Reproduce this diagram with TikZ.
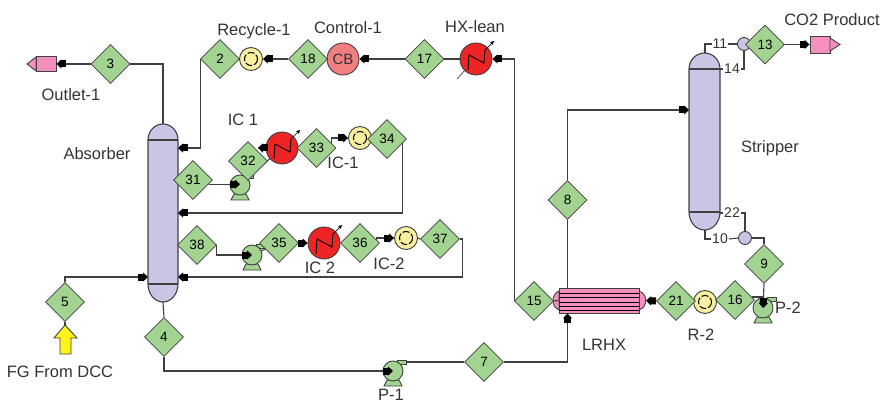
\documentclass[tikz,border=0pt]{standalone}
\usepackage{fontspec}
\setmainfont{Liberation Sans}
\usetikzlibrary{arrows.meta,shapes.geometric,backgrounds}
\definecolor{linec}{HTML}{404040}
\definecolor{txtc}{HTML}{333333}
\definecolor{diac}{HTML}{A2D391}
\definecolor{colc}{HTML}{C8C6E4}
\definecolor{redc}{HTML}{EE2424}
\definecolor{yelc}{HTML}{F7F0A0}
\definecolor{pinkc}{HTML}{F48FC0}
\definecolor{cbc}{HTML}{F27F80}
\tikzset{
  dia/.style={diamond,aspect=1,draw=linec,line width=.6pt,fill=diac,inner sep=0pt,minimum width=39pt,minimum height=39pt,text=black,font=\fontsize{13.5}{13.5}\selectfont},
  lab/.style={text=txtc,font=\fontsize{16.5}{16.5}\selectfont,inner sep=0pt},
  tag/.style={text=txtc,font=\fontsize{14}{14}\selectfont,inner sep=1pt},
  pipe/.style={draw=linec,line width=1.1pt},
  flow/.style={pipe,-{Rectangle[black,length=5pt,width=7pt,sep=0pt]Triangle[black,length=5pt,width=9pt]}},
  ring/.style={circle,inner sep=0pt,draw=linec,line width=.9pt},
  heat/.style={ring,fill=redc,minimum size=32pt},
  recy/.style={ring,fill=yelc,minimum size=23pt},
  mixr/.style={ring,fill=colc,minimum size=13pt},
  pumpn/.style={ring,fill=diac,minimum size=20pt},
  blockn/.style={rectangle,draw=linec,line width=.9pt,fill=pinkc,inner sep=0pt},
  colshape/.style={draw=linec,line width=1.1pt,fill=colc}
}
\newcommand\Heater[2]{%
  \node[heat] (#1) at (#2) {};
  \begin{scope}[shift={(#2)}]
    \draw[line width=.9pt,black] (-8,11) -- (-7,-4) -- (8,4) -- (9,-9);
    \draw[line width=.7pt,black,-{Stealth[length=4pt,width=4pt]}] (9,-9) -- (18,-18);
  \end{scope}}
\newcommand\Recy[2]{%
  \node[recy] (#1) at (#2) {};
  \draw[black,line width=1pt,dash pattern=on 7pt off 2pt] (#1.center) circle (6.5);}
\newcommand\Pump[2]{%
  \begin{scope}[shift={(#2)}]
    \draw[draw=linec,line width=.9pt,fill=diac] (-6,9) -- (6,9) -- (9,15) -- (-9,15) -- cycle;
    \draw[draw=linec,line width=.8pt,fill=diac] (4,-11) rectangle (13,-7);
    \node[pumpn] (#1) at (0,0) {};
  \end{scope}}
\newcommand\Column[5]{% name, left, right, top, bottom
  \node[inner sep=0pt,minimum width=#3pt-#2pt,minimum height=#5pt-#4pt] (#1) at ({(#2+#3)/2},{(#4+#5)/2}) {};
  \draw[colshape] (#2,{#4+16}) arc[start angle=180,end angle=0,x radius={(#3-#2)/2},y radius=-16]
    -- (#3,{#5-18}) arc[start angle=0,end angle=-180,x radius={(#3-#2)/2},y radius=-18] -- cycle;
  \draw[draw=linec,line width=1.1pt] (#2,{#4+16}) -- (#3,{#4+16}) (#2,{#5-18}) -- (#3,{#5-18});}
\begin{document}
\begin{tikzpicture}[x=1pt,y=-1pt]
\useasboundingbox (0,0) rectangle (882,403);
% columns
\Column{abs}{148}{178}{124}{302}
\Column{strip}{689}{720}{53}{230}
\coordinate (absA) at (178,148);
\coordinate (absB) at (178,213);
\coordinate (absC) at (178,277);
\coordinate (absD) at (148,277);
\coordinate (stripF) at (689,110);
\coordinate (stripT) at (705,53);
\coordinate (stripB) at (705,230);
\coordinate (strip14) at (720,69);
\coordinate (strip22) at (720,213);
% equipment
\node[blockn,minimum width=20pt,minimum height=15pt] (outlet) at (46,64) {};
\draw[draw=linec,line width=.9pt,fill=pinkc] (36,57) -- (27,64) -- (36,71) -- cycle;
\node[blockn,minimum width=20pt,minimum height=17pt] (product) at (820,44.5) {};
\draw[draw=linec,line width=.9pt,fill=pinkc] (830,38) -- (840,44.5) -- (830,51) -- cycle;
\Recy{rec1}{251,59}
\node[ring,fill=cbc,minimum size=32pt,text=txtc,font=\fontsize{15}{15}\selectfont] (cb) at (343,59) {CB};
\Heater{hxlean}{476,59}
\draw[line width=.7pt,linec] (457,79) -- (465,70);
\Heater{ic1h}{282,148}
\Recy{ic1r}{360,138}
\Heater{ic2h}{324,243}
\Recy{ic2r}{406,238}
\Pump{pa}{240,185}
\Pump{pb}{252,255}
\Pump{pone}{393,371}
\coordinate (ponetab) at (406,362);
\Pump{ptwo}{763,308}
\Recy{r2}{705,302}
\node[mixr] (mixT) at (744,44) {};
\node[mixr] (mixB) at (745,238) {};
% exchanger
\draw[draw=linec,line width=.9pt,fill=pinkc] (559,291) .. controls (551,294) and (551,307) .. (559,310) -- cycle;
\draw[draw=linec,line width=.9pt,fill=pinkc] (639,291) .. controls (648,294) and (648,307) .. (639,310) -- cycle;
\node[blockn,minimum width=80pt,minimum height=25pt] (lrhx) at (599,300.5) {};
\foreach \yy in {293,297.5,302,306.5,310}{\draw[black,line width=.8pt] (559,\yy) -- (639,\yy);}
% feed arrow
\coordinate (feedtip) at (65,325);
\draw[draw=linec,line width=.9pt,fill=yellow!90!white] (65,325) -- (77,338) -- (71,338) -- (71,354) -- (60,354) -- (60,338) -- (54,338) -- cycle;
% hidden connectors
\begin{pgfonlayer}{background}
\draw[pipe] (pa.center) -- (ic1h.center);
\draw[pipe] (pb.center) -- (279,243);
\end{pgfonlayer}
% stream diamonds
\node[dia] (d3) at (110.5,64) {3};
\node[dia] (d2) at (220,59) {2};
\node[dia] (d18) at (308,59) {18};
\node[dia] (d17) at (424.5,59) {17};
\node[dia] (d13) at (765,44.5) {13};
\node[dia] (d5) at (65,302) {5};
\node[dia] (d4) at (164,337) {4};
\node[dia] (d31) at (193,180) {31};
\node[dia] (d32) at (248,161) {32};
\node[dia] (d33) at (316.5,148) {33};
\node[dia] (d34) at (387,139) {34};
\node[dia] (d38) at (197,245) {38};
\node[dia] (d35) at (279,243) {35};
\node[dia] (d36) at (360,243) {36};
\node[dia] (d37) at (440,239) {37};
\node[dia] (d15) at (534,301) {15};
\node[dia] (d8) at (567.5,200) {8};
\node[dia] (d7) at (484,362) {7};
\node[dia] (d21) at (676,301) {21};
\node[dia] (d16) at (735,300) {16};
\node[dia] (d9) at (764,264) {9};
% stream tags
\node[tag] (t11) at (720,44) {11};
\node[tag] (t14) at (732,69) {14};
\node[tag] (t22) at (732,213) {22};
\node[tag] (t10) at (720,239) {10};
% connectors
\draw[flow] (d3.west) -- (outlet.east);
\draw[pipe] (d3.east) -| (abs.north);
\draw[flow] (d2.west) |- (absA);
\draw[flow] (d18.west) -- (rec1.east);
\draw[pipe] (rec1.west) -- (d2.east);
\draw[pipe] (cb.west) -- (d18.east);
\draw[flow] (d17.west) -- (cb.east);
\draw[pipe] (d17.east) -- (hxlean.west);
\draw[flow] (d15.west) |- (hxlean.east);
\draw[flow] (d5.north) |- (absD);
\draw[pipe] (feedtip) -- (d5.south);
\draw[pipe] (abs.south) -- (d4.north);
\draw[flow] (d4.south) |- (pone.center);
\draw[pipe] (ponetab) -- (d7.west);
\draw[flow] (d7.east) -| (lrhx.south -| d8.south);
\draw[pipe] (d8.south) -- (lrhx.north -| d8.south);
\draw[flow] (d8.north) |- (stripF);
\draw[flow] (d31.-15) -- (d31.-15 -| pa.center);
\draw[flow] (ic1h.west) -- (ic1h.west -| d32.north east);
\draw[flow] (d33.18) |- (ic1r.west);
\draw[flow] (d34.-15) |- (absB);
\draw[flow] (d38.east) |- (pb.center);
\draw[flow] (d35.east) -- (ic2h.west);
\draw[flow] (d36.12) |- (ic2r.west);
\draw[pipe] (ic2r.east) -- (d37.west);
\draw[flow] (d37.east) -- ++(2.5,0) |- (absC);
\draw[flow] (d21.west) -- (lrhx.east -| 646,300);
\draw[pipe] (d15.east) -- (lrhx.west);
\draw[flow] (d9.south) -- (ptwo.center);
\draw[pipe] (d16.10) -- (d16.10 -| ptwo.center);
\draw[pipe] (stripT) |- (t11.west);
\draw[pipe] (t11.east) -- (mixT.west);
\draw[pipe] (strip14) -- (t14.west);
\draw[pipe] (t14.east) -| (mixT.south);
\draw[flow] (d13.east) -- (product.west);
\draw[pipe] (stripB) |- (t10.west);
\draw[pipe] (t10.east) -- (mixB.west);
\draw[pipe] (strip22) -- (t22.west);
\draw[pipe] (t22.east) -| (mixB.north);
\draw[pipe] (mixB.east) -| (d9.north);
% labels
\node[lab] (lOutlet) at (71,95) {Outlet-1};
\node[lab] (lRecycle) at (254,31) {Recycle-1};
\node[lab] (lControl) at (348,28) {Control-1};
\node[lab] (lHX) at (475,27) {HX-lean};
\node[lab] (lCO2) at (832,20) {CO2 Product};
\node[lab] (lAbs) at (97,154) {Absorber};
\node[lab] (lStrip) at (770,148) {Stripper};
\node[lab] (lIC1) at (243,120) {IC 1};
\node[lab] (lICa) at (343,163) {IC-1};
\node[lab,fill=white,inner sep=1pt] (lIC2) at (320,268) {IC 2};
\node[lab] (lICb) at (389,264) {IC-2};
\node[lab] (lFG) at (60,372) {FG From DCC};
\node[lab] (lP1) at (391,395) {P-1};
\node[lab] (lLRHX) at (604,345) {LRHX};
\node[lab] (lR2) at (701,335) {R-2};
\node[lab] (lP2) at (788,308) {P-2};
\end{tikzpicture}
\end{document}
